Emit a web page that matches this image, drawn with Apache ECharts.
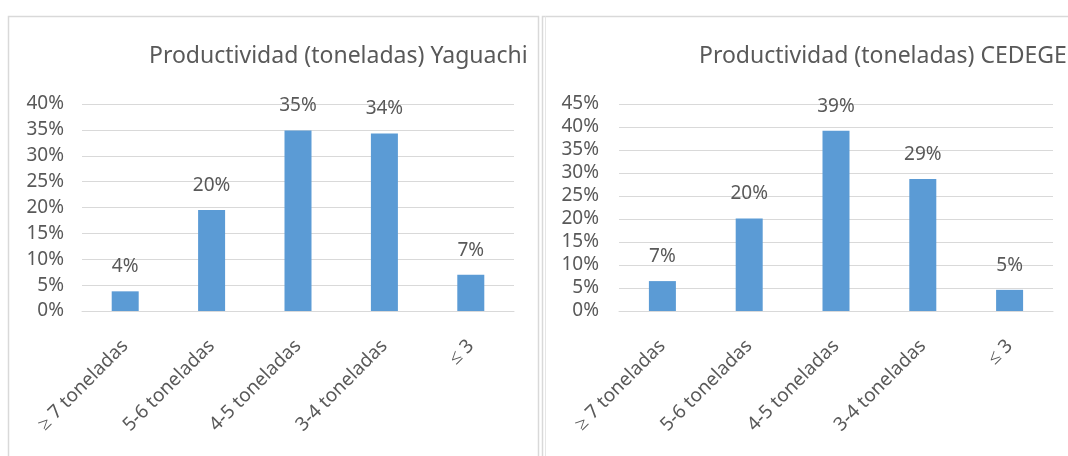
<!DOCTYPE html>
<html>
<head>
<meta charset="utf-8">
<script src="https://cdn.jsdelivr.net/npm/echarts@6/dist/echarts.min.js"></script>
<style>
html,body{margin:0;padding:0;background:#fff;}
#chart{width:1068px;height:456px;}
</style>
</head>
<body>
<div id="chart"></div>
<script>
const categories = ['≥ 7 toneladas', '5-6 toneladas', '4-5 toneladas', '3-4 toneladas', '≤ 3'];
const yaguachiValues = [3.8, 19.5, 34.9, 34.3, 7.0];
const cedegeValues = [6.5, 20.1, 39.2, 28.7, 4.6];
const titleLeft = 'Productividad (toneladas) Yaguachi';
const titleRight = 'Productividad (toneladas) CEDEGE';

const FONT = 'Noto Sans';
const TXT = '#595959';
const GRID = '#D9D9D9';
const BAR = '#5B9BD5';

const chart = echarts.init(document.getElementById('chart'), null, {renderer: 'canvas'});

function xAxisFor(idx) {
  return {
    type: 'category', gridIndex: idx, data: categories,
    axisLine: {lineStyle: {color: GRID, width: 1}},
    axisTick: {show: false},
    axisLabel: {rotate: 45, color: TXT, fontFamily: FONT, fontSize: 19, margin: 32, interval: 0}
  };
}
function yAxisFor(idx, max, margin) {
  return {
    type: 'value', gridIndex: idx, min: 0, max: max, interval: 5,
    axisLine: {show: false}, axisTick: {show: false},
    splitLine: {lineStyle: {color: GRID, width: 1}},
    axisLabel: {formatter: '{value}%', color: TXT, fontFamily: FONT, fontSize: 19, margin: margin}
  };
}
function seriesFor(idx, data) {
  return {
    type: 'bar', xAxisIndex: idx, yAxisIndex: idx, data: data,
    barWidth: 27, itemStyle: {color: BAR},
    label: {show: true, position: 'top', distance: 15, color: TXT, fontFamily: FONT, fontSize: 19,
      formatter: p => Math.round(p.value) + '%'},
    silent: true
  };
}

chart.setOption({
  animation: false,
  graphic: [
    {type: 'rect', shape: {x: 8.5, y: 16.5, width: 530, height: 460}, style: {fill: 'none', stroke: '#D9D9D9', lineWidth: 1.5}},
    {type: 'rect', shape: {x: 542.5, y: 16.5, width: 540, height: 460}, style: {fill: 'none', stroke: '#D9D9D9', lineWidth: 1.5}},
    {type: 'line', shape: {x1: 545.5, y1: 16.5, x2: 545.5, y2: 460}, style: {stroke: '#E6E6E6', lineWidth: 1}}
  ],
  title: [
    {text: titleLeft, left: 144, top: 40, textStyle: {fontFamily: FONT, fontSize: 23, fontWeight: 'normal', color: TXT}},
    {text: titleRight, left: 694, top: 40, textStyle: {fontFamily: FONT, fontSize: 23, fontWeight: 'normal', color: TXT}}
  ],
  grid: [
    {left: 82, right: 554, top: 104, bottom: 145},
    {left: 619, right: 15, top: 104, bottom: 145}
  ],
  xAxis: [xAxisFor(0), xAxisFor(1)],
  yAxis: [yAxisFor(0, 40, 18), yAxisFor(1, 45, 20)],
  series: [seriesFor(0, yaguachiValues), seriesFor(1, cedegeValues)]
});
</script>
</body>
</html>
